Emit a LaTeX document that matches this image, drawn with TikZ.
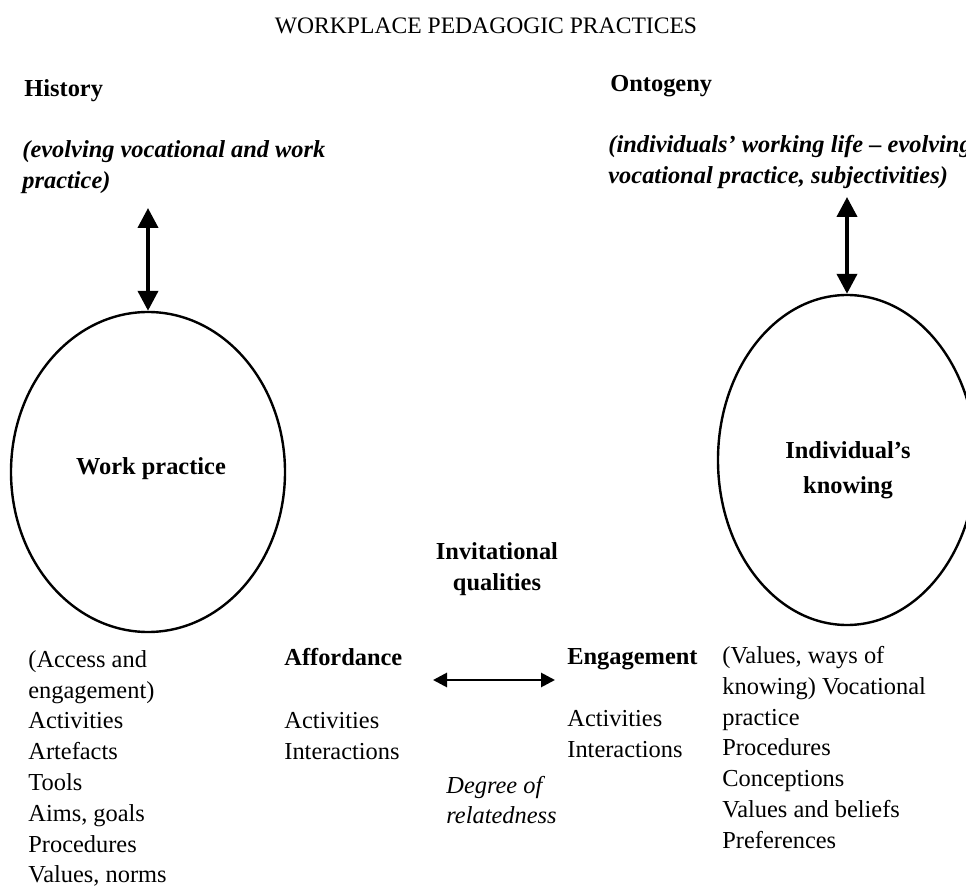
\documentclass[tikz,border=0pt]{standalone}
\usepackage{fontspec}
\setmainfont{Liberation Serif}
\usetikzlibrary{arrows.meta,shapes.geometric}
\begin{document}
\begin{tikzpicture}[x=0.5pt,y=-0.5pt,
  txt/.style={inner sep=0pt, font=\fontsize{12.2}{15.4}\selectfont},
  listtxt/.style={txt, align=left, anchor=north west},
  head/.style={txt, font=\fontsize{12.2}{15.4}\selectfont\bfseries},
  italhead/.style={txt, align=left, anchor=north west, font=\fontsize{12.2}{15.6}\selectfont\bfseries\itshape},
  oval/.style={draw, ellipse, line width=1.2pt, inner sep=0pt},
  bigarrow/.style={line width=2pt, {Triangle[length=10pt,width=10pt]}-{Triangle[length=10pt,width=10pt]}},
  smallarrow/.style={line width=1.4pt, {Triangle[length=7pt,width=7pt]}-{Triangle[length=7pt,width=7pt]}}
]
\useasboundingbox (0,0) rectangle (966,888);

% title
\node[txt, anchor=base, font=\fontsize{11.8}{14}\selectfont] (title) at (486,34) {WORKPLACE PEDAGOGIC PRACTICES};

% history side
\node[head, anchor=base west] (history) at (24,97) {History};
\node[italhead] (hist) at (22,140) {(evolving vocational and work\\practice)};

% ontogeny side
\node[head, anchor=base west] (ontogeny) at (610,92) {Ontogeny};
\node[italhead] (onto) at (608,135) {(individuals’ working life – evolving\\vocational practice, subjectivities)};

% ellipses
\node[oval, minimum width=137pt, minimum height=160pt] (wp) at (148,472) {};
\node[oval, minimum width=129pt, minimum height=165pt] (ik) at (847,460) {};
\node[head] (wptext) at (151,469) {Work practice};
\node[head, align=center, font=\fontsize{12.2}{17.5}\selectfont\bfseries] (iktext) at (848,470) {Individual’s\\knowing};

% vertical arrows
\coordinate (histend) at (148,208);
\coordinate (ontoend) at (847,197);
\draw[bigarrow] (histend) -- (wp.north);
\draw[bigarrow] (ontoend) -- (ik.north);

% invitational qualities
\node[head, align=center] (inv) at (497,569) {Invitational\\qualities};

% left list
\node[listtxt] (leftlist) at (28,650) {(Access and\\engagement)\\Activities\\Artefacts\\Tools\\Aims, goals\\Procedures\\Values, norms};

% affordance
\node[head, anchor=base west] (aff) at (284,666) {Affordance};
\node[listtxt] (afflist) at (284,712) {Activities\\Interactions};

% engagement
\node[head, anchor=base west] (eng) at (567,664) {Engagement};
\node[listtxt] (englist) at (567,710) {Activities\\Interactions};

% relation arrow
\coordinate (relL) at (433,680);
\coordinate (relR) at (555,680);
\draw[smallarrow] (relL) -- (relR);

% degree of relatedness
\node[listtxt, font=\fontsize{12.2}{15.2}\selectfont\itshape] (deg) at (446,776) {Degree of\\relatedness};

% right list
\node[listtxt] (rightlist) at (722,646) {(Values, ways of\\knowing) Vocational\\practice\\Procedures\\Conceptions\\Values and beliefs\\Preferences};
\end{tikzpicture}
\end{document}
